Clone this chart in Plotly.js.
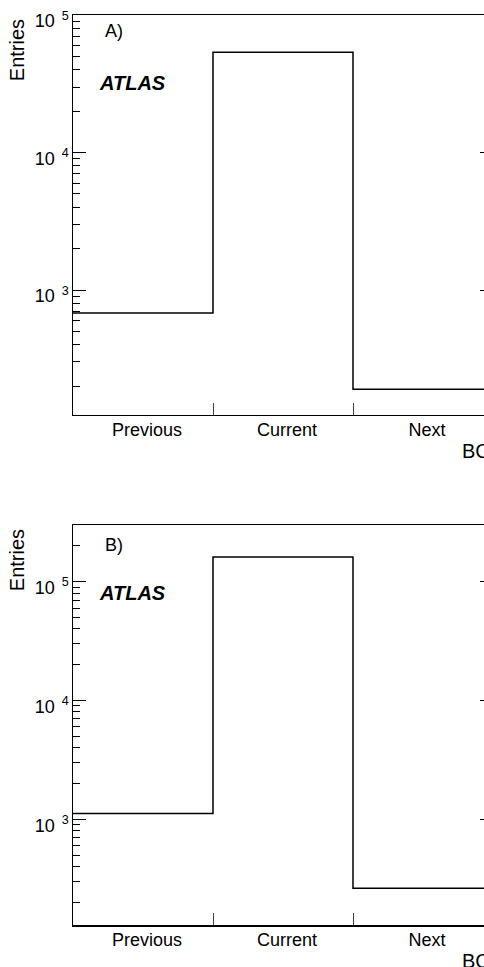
<!DOCTYPE html>
<html>
<head>
<meta charset="utf-8">
<script src="https://cdn.plot.ly/plotly-3.0.1.min.js"></script>
<style>
html, body { margin: 0; padding: 0; overflow: hidden; background: #fff; }
#chart { width: 560px; height: 967px; }
</style>
</head>
<body>
<div id="chart"></div>
<script>
// Data
const categories = ['Previous', 'Current', 'Next'];
const entriesA = [680, 53800, 190];
const entriesB = [1120, 161000, 263];
const decadeExponents = [3, 4, 5];
const panelLabels = ['A)', 'B)'];
const xTitle = 'BCID';
const yTitle = 'Entries';
const experiment = 'ATLAS';

const FONT = 'Liberation Sans, Arial, Helvetica, sans-serif';

function stepTrace(values, xa, ya) {
  const x = values.map((_, i) => i - 0.5).concat([values.length - 0.5]);
  const y = values.concat([values[values.length - 1]]);
  return {
    type: 'scatter', mode: 'lines', x: x, y: y, xaxis: xa, yaxis: ya,
    line: { shape: 'hv', color: '#000', width: 1.5 },
    hoverinfo: 'skip', showlegend: false
  };
}

const edges = categories.slice(1).map((_, i) => i + 0.5);
const centers = categories.map((_, i) => i);
const majorVals = decadeExponents.map(e => Math.pow(10, e));
const majorText = decadeExponents.map(e => '10<sup>\u00a0\u00a0' + e + '</sup>');
const minorVals = [];
[2, 3, 4, 5].forEach(e => { for (let m = 2; m <= 9; m++) minorVals.push(m * Math.pow(10, e)); });

function xAxis(anchor) {
  return {
    anchor: anchor, domain: [0, 1], range: [-0.5, categories.length - 0.5],
    tickmode: 'array', tickvals: centers, ticktext: categories,
    ticks: '', showgrid: false, zeroline: false,
    showline: true, linecolor: '#000', linewidth: 1.5, mirror: true,
    tickfont: { family: FONT, size: 18, color: '#000' },
    ticklabelstandoff: -2, ticklabelshift: 4,
    minor: { tickmode: 'array', tickvals: edges, ticks: 'inside', ticklen: 12, tickwidth: 1, tickcolor: '#444', showgrid: false }
  };
}
function yAxis(anchor, domain, range) {
  return {
    anchor: anchor, domain: domain, type: 'log', range: range,
    tickmode: 'array', tickvals: majorVals, ticktext: majorText,
    ticks: 'inside', ticklen: 13, tickwidth: 1, tickcolor: '#000',
    showline: true, linecolor: '#000', linewidth: 1.5, mirror: 'ticks',
    showgrid: false, zeroline: false,
    tickfont: { family: FONT, size: 18, color: '#000' },
    ticklabelstandoff: -1, ticklabelshift: 6, ticklabeloverflow: 'allow',
    minor: { tickmode: 'array', tickvals: minorVals, ticks: 'inside', ticklen: 7, tickwidth: 1, tickcolor: '#000', showgrid: false }
  };
}

const data = [stepTrace(entriesA, 'x', 'y'), stepTrace(entriesB, 'x2', 'y2')];

const annotations = [];
[['x', 'y'], ['x2', 'y2']].forEach((ax, k) => {
  const xd = ax[0] + ' domain', yd = ax[1] + ' domain';
  annotations.push({ xref: xd, yref: yd, x: 0.0714, y: k === 0 ? 0.96 : 0.95, xanchor: 'left', yanchor: 'middle',
    text: panelLabels[k], showarrow: false, font: { family: FONT, size: 18, color: '#000' } });
  annotations.push({ xref: xd, yref: yd, x: 0.0571, y: 0.831, xanchor: 'left', yanchor: 'middle',
    text: '<b><i>' + experiment + '</i></b>', showarrow: false, font: { family: FONT, size: 20, color: '#000' } });
  annotations.push({ xref: xd, yref: yd, x: -0.1333, y: 0.912, xanchor: 'center', yanchor: 'middle', textangle: -90,
    text: yTitle, showarrow: false, font: { family: FONT, size: 20, color: '#000' } });
  annotations.push({ xref: xd, yref: yd, x: 0.9214, y: 0, yshift: -36, xanchor: 'left', yanchor: 'middle',
    text: xTitle, showarrow: false, font: { family: FONT, size: 20, color: '#000' } });
});

const layout = {
  width: 560, height: 967,
  margin: { l: 73, r: 67, t: 15, b: 42 },
  paper_bgcolor: '#fff', plot_bgcolor: '#fff',
  font: { family: FONT, color: '#000' },
  showlegend: false,
  xaxis: xAxis('y'),
  yaxis: yAxis('x', [0.56044, 1], [2.091, 5.001]),
  xaxis2: xAxis('y2'),
  yaxis2: yAxis('x2', [0, 0.43956], [2.11, 5.477]),
  annotations: annotations
};

Plotly.newPlot('chart', data, layout, { staticPlot: true, displayModeBar: false });
</script>
</body>
</html>
